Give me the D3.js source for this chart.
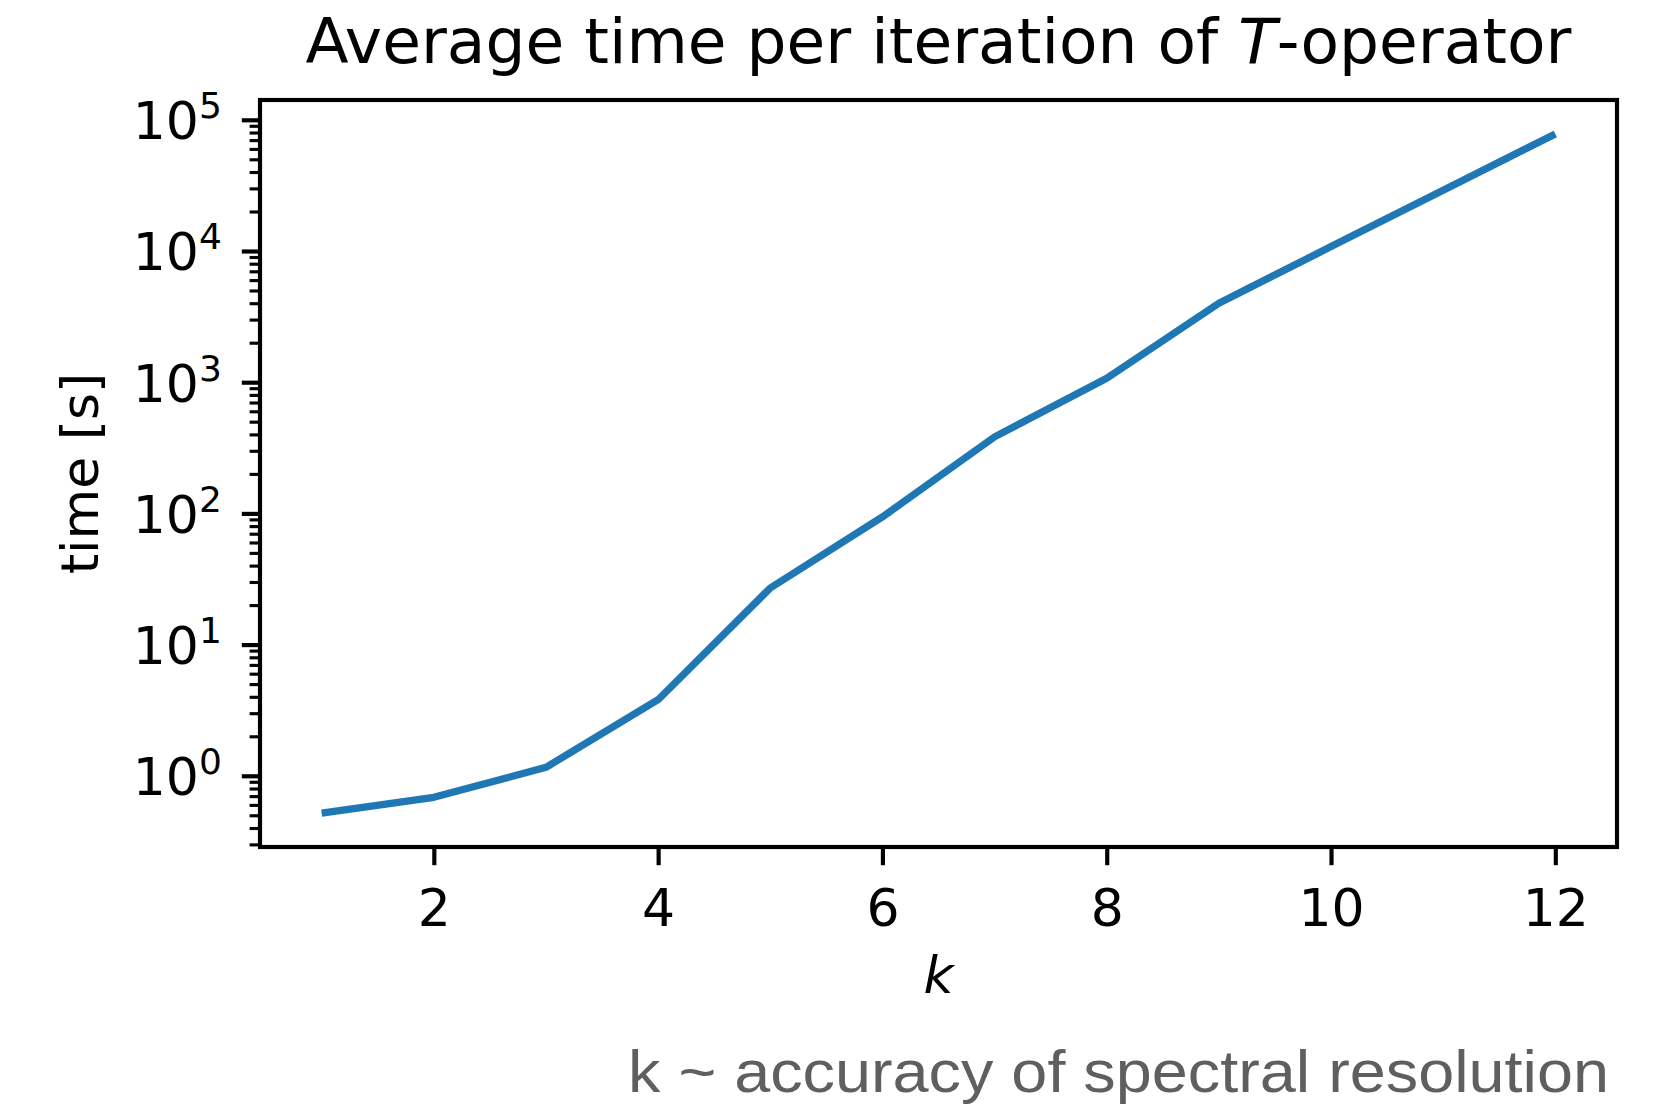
<!DOCTYPE html>
<html>
<head>
<meta charset="utf-8">
<script src="https://cdn.jsdelivr.net/npm/d3@7"></script>
<style>
  html, body { margin: 0; padding: 0; background: #ffffff; }
  svg { display: block; }
</style>
</head>
<body>
<svg id="chart" width="1676" height="1106"></svg>
<script>
// data
const kValues = [1, 2, 3, 4, 5, 6, 7, 8, 9, 10, 11, 12];
const timeValues = [0.52, 0.685, 1.16, 3.8, 27, 94, 383, 1070, 4000, 10800, 29000, 78000];
const xTickValues = [2, 4, 6, 8, 10, 12];
const yTickExponents = [0, 1, 2, 3, 4, 5];

const titleText = "Average time per iteration of ";
const xLabel = "k";
const yLabel = "time [s]";
const captionText = "k ~ accuracy of spectral resolution";

const width = 1676, height = 1106;
const box = { left: 260, right: 1617, top: 100, bottom: 847 };
const pt = 5.2; // one point in pixels at this scale

const svg = d3.select("#chart");
svg.append("rect").attr("width", width).attr("height", height).attr("fill", "#ffffff");

// matplotlib style 5% margins
const xMin = d3.min(kValues), xMax = d3.max(kValues);
const xPad = (xMax - xMin) * 0.05;
const x = d3.scaleLinear()
  .domain([xMin - xPad, xMax + xPad])
  .range([box.left, box.right]);

const lMin = Math.log10(d3.min(timeValues)), lMax = Math.log10(d3.max(timeValues));
const lPad = (lMax - lMin) * 0.05;
const y = d3.scaleLog()
  .domain([Math.pow(10, lMin - lPad), Math.pow(10, lMax + lPad)])
  .range([box.bottom, box.top]);

// minor ticks for the log axis
const minorTicks = [];
for (let e = -1; e <= 5; e++) {
  for (let m = 2; m <= 9; m++) {
    const v = m * Math.pow(10, e);
    if (v >= y.domain()[0] && v <= y.domain()[1]) minorTicks.push(v);
  }
}

const font = "'DejaVu Sans', sans-serif";

// line
const line = d3.line()
  .x((d, i) => x(kValues[i]))
  .y(d => y(d));

svg.append("path")
  .datum(timeValues)
  .attr("d", line)
  .attr("fill", "none")
  .attr("stroke", "#1f77b4")
  .attr("stroke-width", 1.4 * pt)
  .attr("stroke-linejoin", "round")
  .attr("stroke-linecap", "butt");

// y axis minor ticks
svg.append("g")
  .attr("transform", `translate(${box.left},0)`)
  .call(d3.axisLeft(y).tickValues(minorTicks).tickSize(2 * pt).tickFormat(""))
  .call(g => g.select(".domain").remove())
  .call(g => g.selectAll(".tick line").attr("stroke", "#000").attr("stroke-width", 0.6 * pt));

// y axis major ticks
const yAxis = svg.append("g")
  .attr("transform", `translate(${box.left},0)`)
  .call(d3.axisLeft(y)
    .tickValues(yTickExponents.map(e => Math.pow(10, e)))
    .tickSize(3.5 * pt)
    .tickFormat(""))
  .call(g => g.select(".domain").remove())
  .call(g => g.selectAll(".tick line").attr("stroke", "#000").attr("stroke-width", 0.8 * pt));

yAxis.selectAll(".tick").each(function(d) {
  const t = d3.select(this).append("text")
    .attr("x", -3.5 * pt - 20)
    .attr("y", 19)
    .attr("text-anchor", "end")
    .attr("fill", "#000")
    .style("font-family", font)
    .style("font-size", "52px");
  t.append("tspan").text("10");
  t.append("tspan")
    .attr("dy", -21)
    .style("font-size", "36px")
    .text(Math.round(Math.log10(d)));
});

// x axis
svg.append("g")
  .attr("transform", `translate(0,${box.bottom})`)
  .call(d3.axisBottom(x).tickValues(xTickValues).tickSize(3.5 * pt).tickPadding(3.5 * pt))
  .call(g => g.select(".domain").remove())
  .call(g => g.selectAll(".tick line").attr("stroke", "#000").attr("stroke-width", 0.8 * pt))
  .call(g => g.selectAll(".tick text")
    .attr("fill", "#000")
    .attr("dy", null)
    .attr("y", 79)
    .style("font-family", font)
    .style("font-size", "52px"));

// axes frame
svg.append("rect")
  .attr("x", box.left)
  .attr("y", box.top)
  .attr("width", box.right - box.left)
  .attr("height", box.bottom - box.top)
  .attr("fill", "none")
  .attr("stroke", "#000")
  .attr("stroke-width", 0.8 * pt);

const cx = (box.left + box.right) / 2;

// title
const title = svg.append("text")
  .attr("x", cx)
  .attr("y", 63)
  .attr("text-anchor", "middle")
  .attr("fill", "#000")
  .style("font-family", font)
  .style("font-size", "63px");
title.append("tspan").text(titleText);
title.append("tspan").style("font-style", "italic").text("T");
title.append("tspan").text("-operator");

// axis labels
svg.append("text")
  .attr("x", cx)
  .attr("y", 993)
  .attr("text-anchor", "middle")
  .attr("fill", "#000")
  .style("font-family", font)
  .style("font-style", "italic")
  .style("font-size", "52px")
  .text(xLabel);

svg.append("text")
  .attr("transform", `translate(98,${(box.top + box.bottom) / 2}) rotate(-90)`)
  .attr("text-anchor", "middle")
  .attr("fill", "#000")
  .style("font-family", font)
  .style("font-size", "52px")
  .text(yLabel);

// caption in the bottom right
svg.append("text")
  .attr("x", 1609)
  .attr("y", 1092)
  .attr("text-anchor", "end")
  .attr("fill", "#5f5f5f")
  .attr("textLength", 981)
  .attr("lengthAdjust", "spacingAndGlyphs")
  .style("font-family", "'Liberation Sans', Arial, sans-serif")
  .style("font-size", "59px")
  .text(captionText);
</script>
</body>
</html>
